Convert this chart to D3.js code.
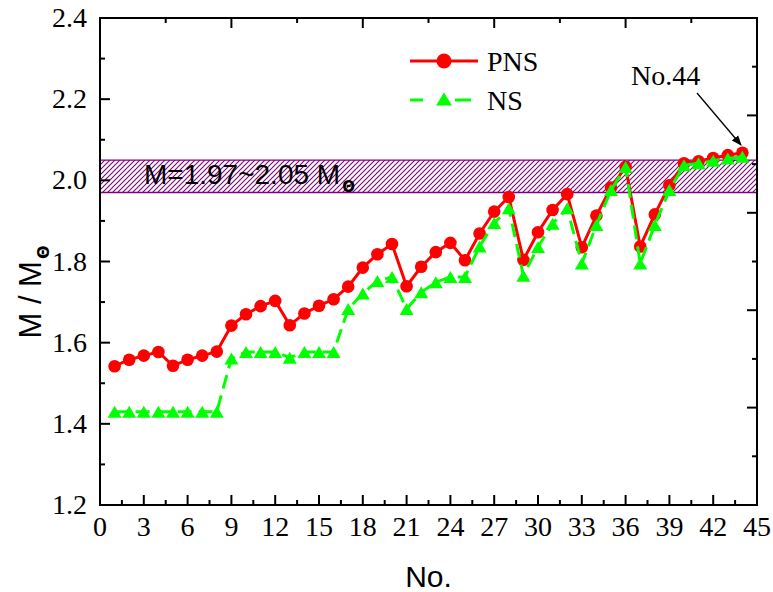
<!DOCTYPE html>
<html><head><meta charset="utf-8">
<script src="https://cdn.jsdelivr.net/npm/d3@7"></script>
<style>body{margin:0;background:#fff}</style>
</head><body>
<script>
const ids = d3.range(1, 45);
const pnsValues = [1.542,1.558,1.568,1.577,1.543,1.558,1.568,1.578,
  1.642,1.670,1.690,1.703,1.643,1.672,1.691,1.707,
  1.738,1.785,1.818,1.843,1.739,1.787,1.823,1.846,
  1.803,1.869,1.923,1.959,1.804,1.872,1.927,1.966,
  1.835,1.913,1.982,2.033,1.837,1.916,1.988,2.042,
  2.047,2.055,2.062,2.068];
const nsValues = [1.430,1.430,1.430,1.430,1.430,1.430,1.430,1.430,
  1.561,1.577,1.577,1.577,1.563,1.577,1.577,1.577,
  1.683,1.721,1.752,1.762,1.683,1.724,1.749,1.762,
  1.762,1.837,1.895,1.931,1.765,1.836,1.893,1.931,
  1.795,1.890,1.976,2.033,1.795,1.890,1.976,2.037,
  2.042,2.048,2.054,2.058];
const xTicks = d3.range(0, 46, 3);
const xMinor = d3.range(1.5, 45, 3);
const yTicks = [1.2,1.4,1.6,1.8,2.0,2.2,2.4];
const yMinor = [1.3,1.5,1.7,1.9,2.1,2.3];
const topTicks = [9,18,27,36];
const topMinor = [4.5,13.5,22.5,31.5,40.5];
const rightTicks = [1.44,1.68,1.92,2.16];
const rightMinor = [1.32,1.56,1.80,2.04,2.28];
const band = [1.97, 2.05];

const W = 773, H = 592;
const svg = d3.select("body").append("svg").attr("width", W).attr("height", H);
const x = d3.scaleLinear().domain([0,45]).range([100,757]);
const y = d3.scaleLinear().domain([1.2,2.4]).range([505,18]);
const serif = "'Liberation Serif','Times New Roman',serif";
const sans = "'Liberation Sans',Arial,sans-serif";

const defs = svg.append("defs");
const pat = defs.append("pattern").attr("id","hatch").attr("patternUnits","userSpaceOnUse")
  .attr("width",5).attr("height",5);
pat.append("path").attr("d","M-1,1 L1,-1 M0,5 L5,0 M4,6 L6,4")
  .attr("stroke","#800080").attr("stroke-width",1.1);
defs.append("marker").attr("id","arrow").attr("viewBox","0 0 10 10").attr("refX",9).attr("refY",5)
  .attr("markerWidth",8).attr("markerHeight",8).attr("orient","auto")
  .append("path").attr("d","M0,1 L10,5 L0,9 Z").attr("fill","#000");

// band
svg.append("rect").attr("x", x(0)).attr("width", x(45)-x(0))
  .attr("y", y(band[1])).attr("height", y(band[0]) - y(band[1]))
  .attr("fill","url(#hatch)");
band.forEach(v => svg.append("line").attr("x1",x(0)).attr("x2",x(45)).attr("y1",y(v)).attr("y2",y(v))
  .attr("stroke","#800080").attr("stroke-width",1.3));
const bt = svg.append("text").attr("x",144).attr("y",184).attr("font-family",sans).attr("font-size",28).attr("fill","#000");
bt.append("tspan").text("M=1.97~2.05 M");
bt.append("tspan").attr("dy",8).attr("dx",2).attr("font-size",15).attr("font-weight","bold")
  .attr("font-family","'DejaVu Sans',sans-serif").text("\u0398");

// ticks (inward)
const tg = svg.append("g").attr("stroke","#000").attr("stroke-width",2);
const y0 = y(1.2), yT = y(2.4), x0 = x(0), xR = x(45);
function vt(vals, len, ybase, dir){ tg.selectAll(null).data(vals).join("line")
  .attr("x1",d=>x(d)).attr("x2",d=>x(d)).attr("y1",ybase).attr("y2",ybase+dir*len); }
function ht(vals, len, xbase, dir){ tg.selectAll(null).data(vals).join("line")
  .attr("y1",d=>y(d)).attr("y2",d=>y(d)).attr("x1",xbase).attr("x2",xbase+dir*len); }
vt(xTicks,10,y0,-1); vt(xMinor,5,y0,-1);
vt(topTicks,10,yT,1); vt(topMinor,5,yT,1);
ht(yTicks,10,x0,1); ht(yMinor,5,x0,1);
ht(rightTicks,10,xR,-1); ht(rightMinor,5,xR,-1);
svg.append("rect").attr("x",x0).attr("y",yT).attr("width",xR-x0).attr("height",y0-yT)
  .attr("fill","none").attr("stroke","#000").attr("stroke-width",2);

// tick labels
svg.selectAll(".xl").data(xTicks).join("text").attr("x",d=>x(d)).attr("y",y0+31)
  .attr("text-anchor","middle").attr("font-family",serif).attr("font-size",28).text(d3.format("d"));
svg.selectAll(".yl").data(yTicks).join("text").attr("x",x0-13).attr("y",d=>y(d)+9)
  .attr("text-anchor","end").attr("font-family",serif).attr("font-size",28).text(d3.format(".1f"));

// series
const line = d3.line();
const pnsPts = ids.map((d,i)=>[x(d), y(pnsValues[i])]);
const nsPts = ids.map((d,i)=>[x(d), y(nsValues[i])]);
svg.append("path").attr("d", line(pnsPts)).attr("fill","none").attr("stroke","#ff0000").attr("stroke-width",3);
svg.selectAll(".pc").data(pnsPts).join("circle").attr("cx",d=>d[0]).attr("cy",d=>d[1]).attr("r",6.3).attr("fill","#ff0000");
svg.append("path").attr("d", line(nsPts)).attr("fill","none").attr("stroke","#00ff00").attr("stroke-width",3)
  .attr("stroke-dasharray","14,7");
const tri = (cx,cy,w,h)=>`M${cx-w/2},${cy+h/2} L${cx+w/2},${cy+h/2} L${cx},${cy-h/2} Z`;
svg.selectAll(".nt").data(nsPts).join("path").attr("d",d=>tri(d[0],d[1],14,12)).attr("fill","#00ff00");

// legend
svg.append("line").attr("x1",410).attr("x2",478).attr("y1",61).attr("y2",61).attr("stroke","#ff0000").attr("stroke-width",3);
svg.append("circle").attr("cx",444).attr("cy",61).attr("r",7.5).attr("fill","#ff0000");
svg.append("text").attr("x",487).attr("y",71).attr("font-family",serif).attr("font-size",28).text("PNS");
svg.append("line").attr("x1",410).attr("x2",471).attr("y1",100).attr("y2",100).attr("stroke","#00ff00").attr("stroke-width",3)
  .attr("stroke-dasharray","13,32,16");
svg.append("path").attr("d",tri(444,99,16,13)).attr("fill","#00ff00");
svg.append("text").attr("x",487).attr("y",110).attr("font-family",serif).attr("font-size",28).text("NS");

// annotation
svg.append("text").attr("x",631).attr("y",85).attr("font-family",serif).attr("font-size",28).text("No.44");
svg.append("line").attr("x1",697).attr("y1",93).attr("x2",741).attr("y2",145)
  .attr("stroke","#000").attr("stroke-width",1.3).attr("marker-end","url(#arrow)");

// axis titles
svg.append("text").attr("x",(x0+xR)/2).attr("y",587).attr("text-anchor","middle")
  .attr("font-family",sans).attr("font-size",30).text("No.");
const yl = svg.append("text").attr("transform","translate(41,292) rotate(-90)").attr("text-anchor","middle")
  .attr("font-family",sans).attr("font-size",31);
yl.append("tspan").text("M / M");
yl.append("tspan").attr("dy",8).attr("dx",2).attr("font-size",16).attr("font-weight","bold")
  .attr("font-family","'DejaVu Sans',sans-serif").text("\u0398");
</script>
</body></html>
